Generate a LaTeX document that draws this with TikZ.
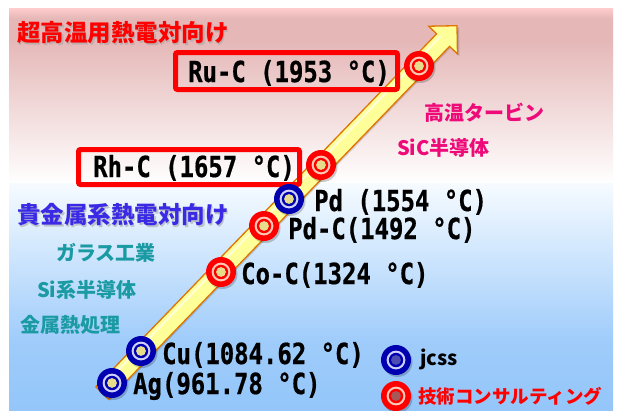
\documentclass[tikz,border=0pt]{standalone}
\usepackage{fontspec}
\setmainfont{Noto Sans CJK JP}
\newfontfamily\lab[FakeStretch=0.825,BoldFeatures={FakeBold=0.6}]{DejaVu Sans Mono}
\usetikzlibrary{calc}
\definecolor{pktop}{HTML}{FFCCCC}
\definecolor{pkmid}{HTML}{E5B7B7}
\definecolor{bltop}{HTML}{F6FBFF}
\definecolor{blbot}{HTML}{94C6FA}
\definecolor{mred}{HTML}{FF0000}
\definecolor{mpeach}{HTML}{FFC8B4}
\definecolor{mnavy}{HTML}{0000B0}
\definecolor{mlav}{HTML}{D0D0FF}
\definecolor{myel}{HTML}{E6DC8C}
\definecolor{arrfill}{HTML}{FFFF99}
\definecolor{arrline}{HTML}{E07400}
\definecolor{tpink}{HTML}{EE0A78}
\definecolor{tblue}{HTML}{3A2AE6}
\definecolor{tteal}{HTML}{1A9AA2}
\pgfdeclareverticalshading{pinkbg}{100bp}{color(0bp)=(white); color(25bp)=(white); color(66bp)=(pkmid); color(72bp)=(pkmid); color(75bp)=(pktop); color(100bp)=(pktop)}
\pgfdeclareverticalshading{bluebg}{100bp}{color(0bp)=(blbot); color(25bp)=(blbot); color(40bp)=(blbot!90!white); color(75bp)=(bltop); color(100bp)=(bltop)}
\tikzset{
  mark base/.style={circle, minimum size=30pt, inner sep=0pt},
  redmark/.style={mark base, fill=mred, path picture={
      \fill[mpeach] (path picture bounding box.center) circle (9.4);
      \fill[mred] (path picture bounding box.center) circle (7.2);
      \fill[#1] (path picture bounding box.center) circle (4.9);}},
  redmark/.default=myel,
  bluemark/.style={mark base, fill=mnavy, path picture={
      \fill[mlav] (path picture bounding box.center) circle (9.4);
      \fill[mnavy] (path picture bounding box.center) circle (7.2);
      \fill[#1] (path picture bounding box.center) circle (4.9);}},
  bluemark/.default=myel,
  shadowc/.style={circle, minimum size=30pt, inner sep=0pt, fill=black, fill opacity=0.2},
  val/.style={anchor=base west, inner sep=0pt, font=\lab\bfseries\fontsize{29}{30}\selectfont, text=black},
  head/.style={anchor=west, inner sep=0pt, font=\bfseries\fontsize{23.5}{26}\selectfont},
  app/.style={anchor=west, inner sep=0pt, font=\bfseries\fontsize{20}{22}\selectfont},
  redbox/.style={draw=mred, line width=5pt, rounded corners=2pt, inner sep=0pt},
}
\begin{document}
\begin{tikzpicture}[x=1pt,y=-1pt]
\useasboundingbox (0,0) rectangle (619,410);
\fill[white] (0,0) rectangle (619,410);
% backgrounds
\shade[shading=pinkbg] (9,8) rectangle (613,183);
\shade[shading=bluebg] (9,183) rectangle (613,410);
% arrow
\fill[black, opacity=0.15] (98.5,389.5) -- (439.3,36.5) -- (430.7,28.2) -- (459,27.7) -- (459.5,56) -- (450.9,47.7) -- (110,400.7) -- cycle;
\filldraw[fill=arrfill, draw=arrline, line width=1.3pt, line join=miter]
  (95.82,386.85) -- (436.62,33.85) -- (428.71,26.21) -- (457,25.7) -- (457.49,53.99) -- (449.58,46.35) -- (108.78,399.35) -- cycle;
\draw[white, opacity=0.6, line width=2pt] (100.5,388.5) -- (440.5,36.5);
% headings
\node[head, text=black!35, opacity=0.6] at (18.5,34.5) {超高温用熱電対向け};
\node[head, text=mred] (hhigh) at (17,33) {超高温用熱電対向け};
\node[head, text=black!35, opacity=0.6] at (18.5,216.5) {貴金属系熱電対向け};
\node[head, text=tblue] (hnoble) at (17,215) {貴金属系熱電対向け};
% applications
\node[app, text=tpink] (turb) at (424,113) {高温タービン};
\node[app, text=tpink] (sic) at (397,148) {SiC半導体};
\node[app, text=tteal] (glass) at (56,253) {ガラス工業};
\node[app, text=tteal] (si) at (37,290) {Si系半導体};
\node[app, text=tteal] (heat) at (20,325) {金属熱処理};
% boxes
\node[redbox, minimum width=222pt, minimum height=37pt] (rubox) at (286.5,71) {};
\node[redbox, minimum width=221pt, minimum height=35pt] (rhbox) at (189,167) {};
\node[val] (rutxt) at (188,82) {Ru-C (1953 °C)};
\node[val] (rhtxt) at (93,177) {Rh-C (1657 °C)};
% marker shadows
\foreach \px/\py in {419/66,321/165,289/199,264/226,221/272,141/351,112/383,396/360,396/396}
  \node[shadowc] at (\px+1.5,\py+2) {};
% markers
\node[redmark] (ru) at (419,66) {};
\node[redmark] (rh) at (321,165) {};
\node[bluemark] (pd) at (289,199) {};
\node[redmark] (pdc) at (264,226) {};
\node[redmark] (coc) at (221,272) {};
\node[bluemark] (cu) at (141,351) {};
\node[bluemark] (ag) at (112,383) {};
\node[bluemark=blue!40!gray] (ljcss) at (396,360) {};
\node[redmark=red!30!gray] (lcons) at (396,396) {};
% values
\node[val] (pdt) at (314,211) {Pd (1554 °C)};
\node[val] (pdct) at (288,239) {Pd-C(1492 °C)};
\node[val] (coct) at (241,284) {Co-C(1324 °C)};
\node[val] (cut) at (162,364) {Cu(1084.62 °C)};
\node[val] (agt) at (133,394) {Ag(961.78 °C)};
% legend
\node[anchor=west, inner sep=0pt, font=\bfseries\fontsize{20}{22}\selectfont] (jcss) at (420,359) {jcss};
\node[anchor=west, inner sep=0pt, font=\bfseries\fontsize{18.5}{20}\selectfont, text=mred] (cons) at (418,396) {技術コンサルティング};
\end{tikzpicture}
\end{document}
